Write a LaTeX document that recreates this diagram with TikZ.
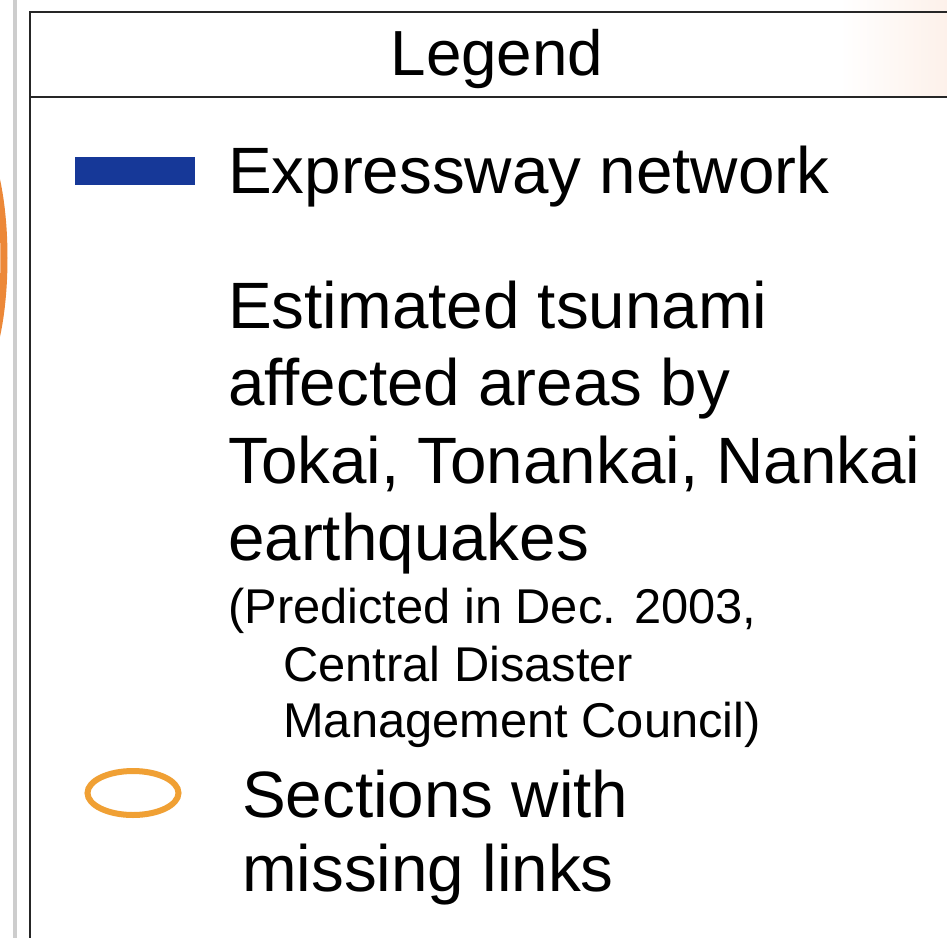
\documentclass[tikz,border=0pt]{standalone}
\usepackage{fontspec}
\setmainfont{Liberation Sans}
\definecolor{exblue}{RGB}{22,56,152}
\definecolor{legorange}{RGB}{240,160,52}
\definecolor{arcorange}{RGB}{236,136,56}
\definecolor{sepgray}{RGB}{205,205,205}
\definecolor{pinkish}{RGB}{253,241,234}
\begin{document}
\begin{tikzpicture}[x=1bp,y=-1bp,
  bigtext/.style={font=\fontsize{65.8}{65.8}\selectfont, anchor=base west, inner sep=0pt, text=black},
  titletext/.style={font=\fontsize{64}{64}\selectfont, anchor=base, inner sep=0pt, text=black},
  smalltext/.style={font=\fontsize{49}{49}\selectfont, anchor=base west, inner sep=0pt, text=black},
  boxline/.style={line width=2.2bp, draw=black!85}]
\useasboundingbox (0,0) rectangle (947,938);
\fill[white] (0,0) rectangle (947,938);
\shade[left color=white, right color=pinkish] (840,0) rectangle (947,96);
% left separator and orange arc of the map
\draw[sepgray, line width=4bp] (14.5,0) -- (14.5,938);
\begin{scope}
  \clip (0,0) rectangle (11,938);
  \draw[arcorange, line width=7bp] (-30,258) ellipse [x radius=34, y radius=125];
\end{scope}
% legend box
\draw[boxline] (947,12) -- (30,12) -- (30,938);
\draw[boxline] (30,97) -- (947,97);
\node[titletext] (title) at (497,75) {Legend};
% expressway
\fill[exblue] (75,157) rectangle (195,185);
\node[bigtext] (exp) at (228,193) {Expressway network};
% tsunami
\node[bigtext] (ts1) at (228,328) {Estimated tsunami};
\node[bigtext] (ts2) at (228,405) {affected areas by};
\node[bigtext] (ts3) at (228,483) {Tokai, Tonankai, Nankai};
\node[bigtext] (ts4) at (228,560) {earthquakes};
\node[smalltext] (sm1) at (228,623) {(Predicted in Dec. 2003,};
\node[smalltext] (sm2) at (283,681) {Central Disaster};
\node[smalltext] (sm3) at (283,737) {Management Council)};
% missing links
\draw[legorange, line width=6bp] (133,793) ellipse [x radius=45.5, y radius=22];
\node[bigtext] (ml1) at (242,817) {Sections with};
\node[bigtext] (ml2) at (242,891) {missing links};
\end{tikzpicture}
\end{document}
